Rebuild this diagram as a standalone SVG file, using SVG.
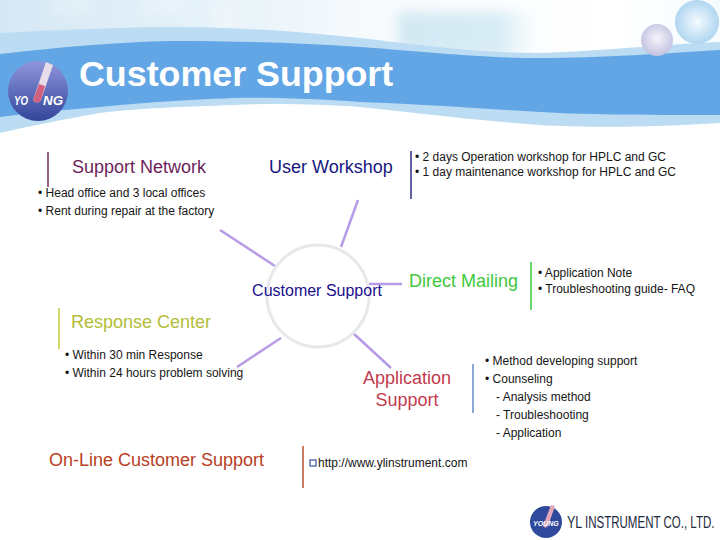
<svg xmlns="http://www.w3.org/2000/svg" width="720" height="540" viewBox="0 0 720 540">
<style>
text{font-family:"Liberation Sans",Arial,sans-serif}
.b{font-size:12px;fill:#151515}
.h{font-size:18px}
.c{stroke:#b79be6;stroke-width:2.5;fill:none}
.s{stroke-width:1.6;fill:none}
</style>
<defs>
<linearGradient id="fade" x1="0" y1="0" x2="1" y2="0"><stop offset="0" stop-color="#d5e8f5"/><stop offset=".3" stop-color="#e6f2f9"/><stop offset=".5" stop-color="#f6fafd"/><stop offset=".85" stop-color="#ffffff"/><stop offset="1" stop-color="#f6fbfe"/></linearGradient>
<linearGradient id="panel" x1="0" y1="0" x2="1" y2="0"><stop offset="0" stop-color="#d3e9f3"/><stop offset=".7" stop-color="#d8ecf5"/><stop offset="1" stop-color="#ffffff" stop-opacity="0"/></linearGradient>
<radialGradient id="b1" cx=".5" cy=".5" r=".55"><stop offset="0" stop-color="#f4fbff"/><stop offset="1" stop-color="#a9d2ee"/></radialGradient>
<radialGradient id="b2" cx=".5" cy=".45" r=".55"><stop offset="0" stop-color="#f5f3fa"/><stop offset="1" stop-color="#c3c3e2"/></radialGradient>
<linearGradient id="logo" x1="0" y1="0" x2="0" y2="1"><stop offset="0" stop-color="#8f96dc"/><stop offset="1" stop-color="#33459a"/></linearGradient>
<filter id="soft" x="-20%" y="-40%" width="140%" height="180%"><feGaussianBlur stdDeviation="6"/></filter>
</defs>
<g id="background">
<rect width="720" height="60" fill="url(#fade)"/>
<rect x="398" y="12" width="150" height="44" fill="url(#panel)" filter="url(#soft)"/>
<g fill="#fff" opacity=".25" filter="url(#soft)">
<rect x="50" y="0" width="45" height="14"/>
<rect x="140" y="0" width="45" height="14"/>
<rect x="210" y="0" width="30" height="28"/>
</g>
<path d="M0 33C60 30 120 27 180 27C260 28 310 33 360 38C430 46 480 53 540 53C600 51 670 44 720 42V123C660 127 590 128 540 125C470 120 420 113 360 107C320 104 270 103 233 105C180 107 140 108 100 113C60 120 25 127 0 133Z" fill="#bcdcf3"/>
<path d="M0 54C60 47 120 42 170 41C240 41 300 43 360 47C430 52 480 58 540 58C600 58 670 53 720 50V115C660 115 590 115 540 112C470 108 420 104 360 102C320 99 270 97 233 98C180 100 140 103 100 107C60 110 25 114 0 117Z" fill="#62a6e6"/>
<circle cx="697" cy="22" r="22" fill="url(#b1)"/>
<circle cx="657" cy="40" r="16" fill="url(#b2)"/>
</g>
<g id="title-logo">
<circle cx="38" cy="91" r="30" fill="url(#logo)"/>
<path d="M46 62L53 65L41 100Q37 105 33 100Z" fill="#e7dcea"/>
<path d="M39 84L45 86L41 100Q37 105 33 100Z" fill="#d0607f"/>
<text x="14" y="105" font-size="13" font-weight="bold" font-style="italic" fill="#fff" textLength="14" lengthAdjust="spacingAndGlyphs">YO</text>
<text x="43" y="105" font-size="13" font-weight="bold" font-style="italic" fill="#fff" textLength="20" lengthAdjust="spacingAndGlyphs">NG</text>
</g>
<text id="title" x="79" y="86" font-size="35.8" font-weight="bold" fill="#fff">Customer Support</text>
<g id="connectors">
<line class="c" x1="341" y1="247" x2="358" y2="200"/>
<line class="c" x1="275" y1="266" x2="220" y2="230"/>
<line class="c" x1="369" y1="284" x2="402" y2="284"/>
<line class="c" x1="281" y1="338" x2="237" y2="367"/>
<line class="c" x1="353" y1="333" x2="391" y2="368"/>
</g>
<g id="hub">
<circle cx="318" cy="296" r="51" fill="none" stroke="#e8e8ec" stroke-width="3"/>
<text x="317" y="296" font-size="16" fill="#1a0f8c" text-anchor="middle">Customer Support</text>
</g>
<g id="support-network">
<line class="s" x1="48" y1="152" x2="48" y2="187" stroke="#7a3b63"/>
<text class="h" x="72" y="173" fill="#6b1f5c">Support Network</text>
<text class="b" x="38" y="197">• Head office and 3 local offices</text>
<text class="b" x="38" y="215">• Rent during repair at the factory</text>
</g>
<g id="user-workshop">
<line class="s" x1="411" y1="151" x2="411" y2="199" stroke="#3a3a8c"/>
<text class="h" x="269" y="173" fill="#17177f">User Workshop</text>
<text class="b" x="415" y="161">• 2 days Operation workshop for HPLC and GC</text>
<text class="b" x="415" y="176">• 1 day maintenance workshop for HPLC and GC</text>
</g>
<g id="direct-mailing">
<line class="s" x1="531" y1="262" x2="531" y2="310" stroke="#44cc44"/>
<text class="h" x="409" y="287" fill="#40c840">Direct Mailing</text>
<text class="b" x="538" y="277">• Application Note</text>
<text class="b" x="538" y="293">• Troubleshooting guide- FAQ</text>
</g>
<g id="response-center">
<line class="s" x1="59" y1="308" x2="59" y2="349" stroke="#c9cf4a"/>
<text class="h" x="71" y="328" fill="#b3bd3a">Response Center</text>
<text class="b" x="65" y="359">• Within 30 min Response</text>
<text class="b" x="65" y="377">• Within 24 hours problem solving</text>
</g>
<g id="application-support">
<line class="s" x1="473" y1="364" x2="473" y2="413" stroke="#7090cc"/>
<text class="h" x="407" y="384" fill="#c23b4e" text-anchor="middle">Application</text>
<text class="h" x="407" y="406" fill="#c23b4e" text-anchor="middle">Support</text>
<text class="b" x="485" y="365">• Method developing support</text>
<text class="b" x="485" y="383">• Counseling</text>
<text class="b" x="496" y="401">- Analysis method</text>
<text class="b" x="496" y="419">- Troubleshooting</text>
<text class="b" x="496" y="437">- Application</text>
</g>
<g id="online-support">
<line class="s" x1="303" y1="446" x2="303" y2="488" stroke="#c0583f"/>
<text class="h" x="49" y="466" fill="#b8401f">On-Line Customer Support</text>
<rect x="310" y="460" width="6" height="6" fill="#fff" stroke="#3a4fa8" stroke-width="1.2"/>
<text class="b" x="318" y="467">http://www.ylinstrument.com</text>
</g>
<g id="footer-logo">
<circle cx="546" cy="522" r="16" fill="#2f4a9c"/>
<path d="M551 505L555 506L548 526Q545 529 543 526Z" fill="#e3a7bb"/>
<text x="533" y="526" font-size="7" font-weight="bold" font-style="italic" fill="#fff">YOUNG</text>
<text transform="translate(567 528) scale(.78 1)" font-size="16" fill="#1c2a40">YL</text>
<text transform="translate(585 528) scale(.72 1)" font-size="16" fill="#1c2a40">INSTRUMENT CO., LTD.</text>
</g>
</svg>
